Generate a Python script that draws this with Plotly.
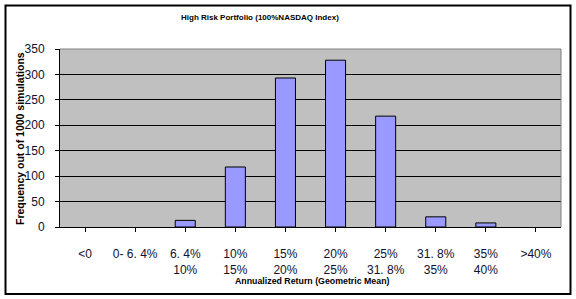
import plotly.graph_objects as go

categories = ["<0", "0- 6. 4%", "6. 4%<br>10%", "10%<br>15%", "15%<br>20%",
              "20%<br>25%", "25%<br>31. 8%", "31. 8%<br>35%", "35%<br>40%", ">40%"]
frequencies = [0, 0, 13, 118, 293, 328, 218, 20, 8, 0]
y_ticks = [0, 50, 100, 150, 200, 250, 300, 350]

W, H = 576, 299
ml, mr, mt, mb = 60, 15, 49, 72
pw, ph = W - ml - mr, H - mt - mb

def px_x(x):
    return (x - ml) / pw

def px_y(y):
    return (H - mb - y) / ph

outline_widths = [1 if v > 0 else 0 for v in frequencies]

fig = go.Figure()
fig.add_trace(go.Bar(
    x=list(range(len(categories))), y=frequencies,
    marker=dict(color="#9999FF", line=dict(color="black", width=outline_widths)),
    width=0.4,
))

fig.update_layout(
    width=W, height=H,
    margin=dict(l=ml, r=mr, t=mt, b=mb),
    paper_bgcolor="white",
    plot_bgcolor="#C0C0C0",
    showlegend=False,
    font=dict(family="Liberation Sans, Arial, sans-serif", color="black"),
    xaxis=dict(
        tickmode="array", tickvals=list(range(len(categories))), ticktext=categories,
        range=[-0.5, len(categories) - 0.5],
        tickson="boundaries", ticks="outside", ticklen=4, tickcolor="black",
        showline=True, linecolor="black", linewidth=1,
        showgrid=False, tickfont=dict(size=12, color="#101030"),
        ticklabelstandoff=12,
    ),
    yaxis=dict(
        range=[0, 350], tickvals=y_ticks,
        ticks="outside", ticklen=4, tickcolor="black",
        showline=True, linecolor="black", linewidth=1,
        showgrid=True, gridcolor="black", gridwidth=1,
        tickfont=dict(size=12, color="#101030"),
        ticklabelstandoff=8, zeroline=False,
    ),
    annotations=[
        dict(text="High Risk Portfolio (100%NASDAQ Index)", xref="paper", yref="paper",
             x=px_x(260), y=px_y(17), showarrow=False, xanchor="center", yanchor="middle",
             font=dict(size=8, color="black", family="Liberation Sans, Arial", weight="bold")),
        dict(text="Annualized Return (Geometric Mean)", xref="paper", yref="paper",
             x=px_x(312), y=px_y(281), showarrow=False, xanchor="center", yanchor="middle",
             font=dict(size=8.8, color="black", family="Liberation Sans, Arial", weight="bold")),
        dict(text="Frequency out of 1000 simulations", xref="paper", yref="paper",
             x=px_x(20), y=px_y(139), showarrow=False, xanchor="center", yanchor="middle",
             textangle=-90,
             font=dict(size=10.5, color="black", family="Liberation Sans, Arial", weight="bold")),
    ],
    shapes=[
        dict(type="line", xref="paper", yref="paper", x0=0, x1=1, y0=1, y1=1,
             line=dict(color="#808080", width=1), layer="above"),
        dict(type="line", xref="paper", yref="paper", x0=1, x1=1, y0=0, y1=1,
             line=dict(color="#808080", width=1), layer="above"),
        dict(type="rect", xref="paper", yref="paper",
             x0=px_x(5.5), x1=px_x(570.5), y0=px_y(294), y1=px_y(5.5),
             line=dict(color="black", width=2), layer="below"),
    ],
)

fig.write_html("out.html")
